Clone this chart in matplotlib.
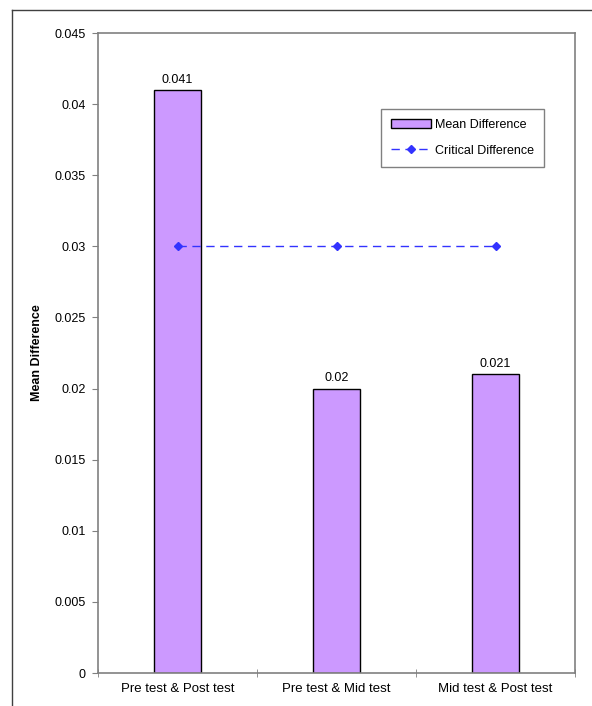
import numpy as np
import matplotlib.pyplot as plt
from matplotlib.lines import Line2D

plt.rcParams['font.family'] = ['Liberation Sans', 'DejaVu Sans']

categories = ['Pre test & Post test', 'Pre test & Mid test', 'Mid test & Post test']
mean_diff = [0.041, 0.02, 0.021]
critical_diff = [0.03, 0.03, 0.03]
yticks = [0, 0.005, 0.01, 0.015, 0.02, 0.025, 0.03, 0.035, 0.04, 0.045]
ytick_labels = ['0', '0.005', '0.01', '0.015', '0.02', '0.025', '0.03', '0.035', '0.04', '0.045']

fig = plt.figure(figsize=(5.92, 7.06), dpi=100)
ax = fig.add_axes([98/592, (706-673)/706, 477/592, 640/706])

# chart frame, only top/left edges fall inside the image
fig.add_artist(Line2D([12/592, 12/592], [0, 1 - 10/706], color='#404040', lw=1))
fig.add_artist(Line2D([12/592, 1], [1 - 10/706, 1 - 10/706], color='#404040', lw=1))

x = np.arange(len(categories))
bars = ax.bar(x, mean_diff, width=0.29, color='#CC99FF', edgecolor='black',
              linewidth=1, label='Mean Difference', zorder=2)
for xi, v in zip(x, mean_diff):
    ax.text(xi, v + 0.0003, f'{v:g}', ha='center', va='bottom', fontsize=9)

line, = ax.plot(x, critical_diff, color='#3333FF', ls=(0, (6, 4)), lw=1,
                marker='D', markersize=4, label='Critical Difference', zorder=3)

ax.set_xlim(-0.5, 2.5)
ax.set_ylim(0, 0.045)
ax.set_yticks(yticks)
ax.set_yticklabels(ytick_labels, fontsize=9)
ax.set_xticks(x)
ax.set_xticklabels(categories, fontsize=9.5)
ax.set_xticks([-0.5, 0.5, 1.5, 2.5], minor=True)
ax.tick_params(axis='x', which='major', length=0, pad=7)
ax.tick_params(axis='x', which='minor', direction='inout', length=6, color='#808080')
ax.tick_params(axis='y', direction='out', length=4, color='#808080', pad=5)
for s in ax.spines.values():
    s.set_color('#808080')
    s.set_linewidth(1.2)

ax.set_ylabel('Mean Difference', fontsize=9, fontweight='bold', labelpad=8)

leg = ax.legend([bars, line], ['Mean Difference', 'Critical Difference'],
                loc='upper right', bbox_to_anchor=(0.948, 0.891), fontsize=9,
                fancybox=False, edgecolor='#808080', framealpha=1,
                handlelength=3.2, borderpad=0.8, labelspacing=1.1, handletextpad=0.3)
leg.get_frame().set_linewidth(1)

fig.savefig('out.png', dpi=100)
